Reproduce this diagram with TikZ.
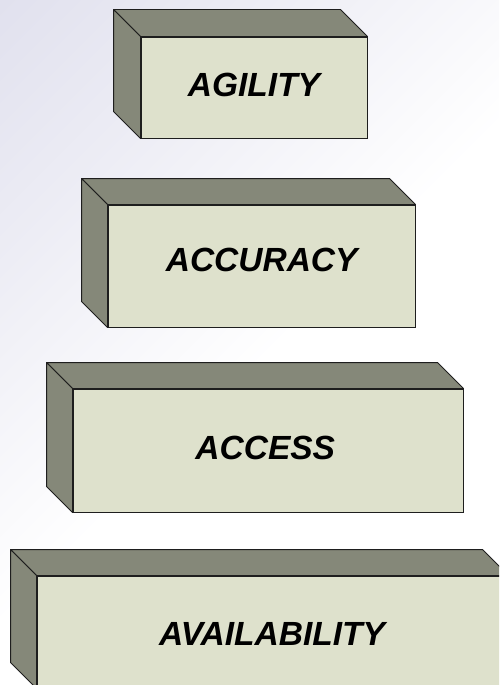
\documentclass[tikz,border=0pt]{standalone}
\usepackage{fontspec}
\setmainfont{Liberation Sans}
\usetikzlibrary{calc}
\definecolor{lav}{HTML}{D6D6E8}
\definecolor{faceclr}{HTML}{DEE1CC}
\definecolor{sideclr}{HTML}{858879}
\definecolor{edgeclr}{HTML}{1E1E1E}
\pgfdeclareverticalshading{bgfade}{100bp}{color(0bp)=(white); color(48bp)=(white); color(70bp)=(lav!45); color(100bp)=(lav)}
\tikzset{
  face/.style={draw=edgeclr, fill=faceclr, line width=0.9pt, inner sep=0pt},
  side/.style={draw=edgeclr, fill=sideclr, line width=0.9pt, line join=round},
  word/.style={anchor=base, inner sep=0pt, text=black,
    font=\fontsize{33.5}{36}\selectfont\bfseries\itshape}
}
% draws the top and left faces of a slab behind its front face node #1, depth #2
\newcommand\slabsides[2]{%
  \path[side] (#1.north west) -- ++(-#2,-#2) -- ($(#1.north east)+(-#2,-#2)$) -- (#1.north east) -- cycle;
  \path[side] (#1.north west) -- ++(-#2,-#2) -- ($(#1.south west)+(-#2,-#2)$) -- (#1.south west) -- cycle;
}
\begin{document}
\begin{tikzpicture}[x=1pt,y=-1pt]
  \useasboundingbox (0,0) rectangle (499,685);
  \clip (0,0) rectangle (499,685);
  % backdrop
  \shade[shading=bgfade, shading angle=45] (0,0) rectangle (499,685);

  % front faces
  \node[face, minimum width=226pt, minimum height=101pt] (agility) at (254,87.5) {};
  \node[face, minimum width=307pt, minimum height=122pt] (accuracy) at (261.5,266) {};
  \node[face, minimum width=390pt, minimum height=123pt] (access) at (268,450.5) {};
  \node[face, minimum width=471pt, minimum height=112pt] (availability) at (272.5,632) {};

  % top and left faces
  \slabsides{agility}{27}
  \slabsides{accuracy}{26}
  \slabsides{access}{26}
  \slabsides{availability}{26}

  % labels
  \node[word] (lagility) at (254,96.5) {AGILITY};
  \node[word] (laccuracy) at (261.7,271.7) {ACCURACY};
  \node[word] (laccess) at (265.3,459) {ACCESS};
  \node[word] (lavailability) at (272,645) {AVAILABILITY};
\end{tikzpicture}
\end{document}
